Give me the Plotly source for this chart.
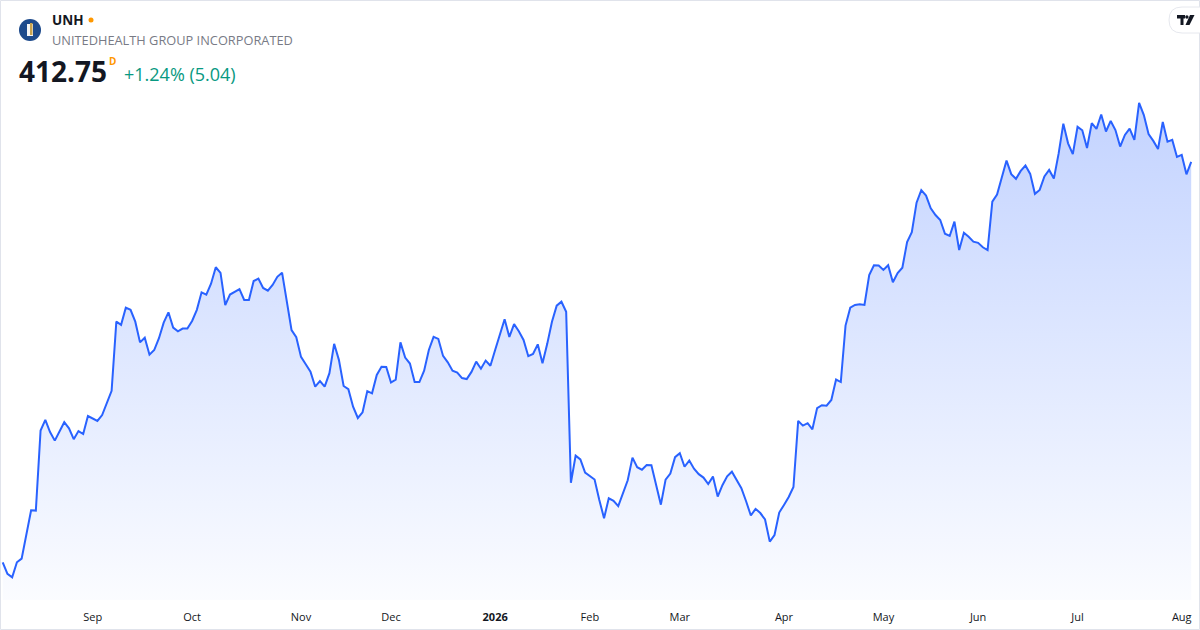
import pandas as pd
import plotly.graph_objects as go

TICKER = "UNH"
COMPANY = "UNITEDHEALTH GROUP INCORPORATED"
LAST_PRICE = "412.75"
CHANGE_TEXT = "+1.24% (5.04)"

# one daily close per NYSE session, Aug 5 2025 -> Aug 5 2026
START_DATE = "2025-08-05"
END_DATE = "2026-08-05"
HOLIDAYS = ["2025-09-01", "2025-11-27", "2025-12-25", "2026-01-01", "2026-01-19",
            "2026-02-16", "2026-04-03", "2026-05-25", "2026-06-19", "2026-07-03"]

CLOSES = [
    250.2, 245.5, 244.1, 250.2, 251.7, 261.5, 271.3, 271.2, 303.7, 308.0,
    303.1, 299.6, 303.5, 307.1, 304.6, 300.2, 303.5, 302.3, 309.6, 308.6,
    307.6, 310.0, 314.9, 319.8, 347.9, 346.6, 353.6, 352.7, 347.9, 339.5,
    341.4, 334.5, 336.4, 341.2, 347.5, 351.7, 345.5, 344.0, 345.1, 345.1,
    348.2, 352.7, 359.8, 358.9, 363.3, 370.0, 367.7, 354.6, 358.9, 360.0,
    361.1, 356.7, 356.7, 364.4, 365.4, 361.6, 360.5, 362.8, 366.1, 367.8,
    355.4, 344.5, 341.6, 333.6, 330.6, 327.6, 321.5, 323.8, 321.5, 327.0,
    338.9, 332.4, 321.8, 320.5, 313.4, 308.8, 311.1, 319.7, 318.8, 326.3,
    329.6, 329.5, 323.2, 324.4, 339.5, 333.3, 330.9, 323.4, 323.4, 328.0,
    336.4, 341.7, 340.9, 334.0, 331.4, 328.0, 327.2, 325.0, 324.6, 327.5,
    331.7, 328.8, 332.1, 330.0, 336.4, 342.5, 348.9, 341.7, 346.9, 344.0,
    340.5, 333.9, 334.8, 338.7, 331.0, 338.9, 347.9, 354.4, 356.0, 351.9,
    282.5, 293.5, 292.0, 286.6, 285.3, 283.8, 275.5, 268.1, 276.2, 275.2,
    273.0, 278.4, 283.5, 292.7, 288.8, 287.8, 289.7, 289.6, 281.5, 273.6,
    283.8, 286.2, 292.9, 294.5, 289.0, 291.5, 288.2, 286.0, 284.6, 282.0,
    285.0, 276.9, 281.5, 285.1, 287.0, 283.8, 280.3, 275.0, 269.2, 271.9,
    270.2, 267.6, 258.6, 261.3, 270.4, 273.5, 276.7, 280.8, 307.6, 305.7,
    306.7, 304.2, 312.8, 314.0, 313.8, 316.1, 324.4, 323.4, 346.3, 353.6,
    354.7, 355.0, 354.7, 366.8, 370.8, 370.7, 368.9, 370.8, 363.9, 367.6,
    369.8, 380.2, 384.2, 396.2, 401.3, 399.1, 393.9, 391.2, 389.2, 383.6,
    382.7, 388.5, 377.0, 384.0, 382.4, 380.4, 379.9, 378.1, 377.0, 396.6,
    399.5, 406.4, 413.3, 407.8, 405.9, 409.1, 411.3, 407.9, 399.8, 401.4,
    406.9, 409.5, 406.0, 416.1, 428.3, 420.3, 415.9, 427.0, 425.6, 418.4,
    428.5, 426.2, 432.0, 425.1, 429.4, 425.7, 419.0, 423.7, 426.3, 421.7,
    436.7, 431.8, 424.1, 421.3, 418.0, 429.0, 421.0, 421.7, 414.8, 415.6,
    407.71, 412.75,
]

TICK_DATES = ["2025-09-02", "2025-10-01", "2025-11-03", "2025-12-01", "2026-01-02",
              "2026-02-02", "2026-03-02", "2026-04-01", "2026-05-01", "2026-06-01",
              "2026-07-01", "2026-08-03"]
TICK_LABELS = ["Sep", "Oct", "Nov", "Dec", "<b>2026</b>", "Feb", "Mar", "Apr",
               "May", "Jun", "Jul", "Aug"]

LINE_COLOR = "#2962FF"
FONT = "Open Sans"
W, H = 1200, 630
PLOT_H = 600

dates = pd.bdate_range(START_DATE, END_DATE, freq="C", holidays=HOLIDAYS)
df = pd.DataFrame({"date": dates, "close": CLOSES})

y_range = [234.9, 478.5]


def px_x(p):
    return p / W


def px_y(p):
    return 1 - p / PLOT_H


fig = go.Figure()
fig.add_trace(go.Scatter(
    x=df["date"], y=df["close"],
    mode="lines",
    line=dict(color=LINE_COLOR, width=2),
    fill="tozeroy",
    fillgradient=dict(
        type="vertical",
        colorscale=[[0, "rgba(41,98,255,0.02)"], [1, "rgba(41,98,255,0.28)"]],
        start=y_range[0],
        stop=df["close"].max(),
    ),
    hoverinfo="skip",
    showlegend=False,
))

fig.update_xaxes(
    type="date",
    rangebreaks=[dict(bounds=["sat", "mon"]), dict(values=HOLIDAYS)],
    range=["2025-08-04 10:18", "2026-08-06 20:40"],
    tickmode="array",
    tickvals=TICK_DATES,
    ticktext=TICK_LABELS,
    ticks="",
    showgrid=False,
    zeroline=False,
    showline=False,
    ticklabelstandoff=9,
    tickfont=dict(family=FONT, size=11, color="#131722"),
)
fig.update_yaxes(range=y_range, visible=False, showgrid=False, zeroline=False)

ann = [
    dict(text="<b>" + TICKER + "</b>", x=px_x(50), y=px_y(20), font=dict(size=13.5, color="#131722")),
    dict(text=COMPANY, x=px_x(50), y=px_y(40), font=dict(size=12.8, color="#787B86")),
    dict(text="<b>" + LAST_PRICE + "</b>", x=px_x(17), y=px_y(71), font=dict(size=28, color="#131722")),
    dict(text="<b>D</b>", x=px_x(107), y=px_y(61), font=dict(size=10, color="#FF9800")),
    dict(text=CHANGE_TEXT, x=px_x(122), y=px_y(74), font=dict(size=18, color="#089981")),
]
for a in ann:
    a.update(xref="paper", yref="paper", xanchor="left", yanchor="middle", showarrow=False)
    a["font"]["family"] = FONT
    fig.add_annotation(**a)

shapes = [
    # card border
    dict(type="rect", x0=px_x(0.5), x1=px_x(1199.5), y0=px_y(629.5), y1=px_y(0.5),
         line=dict(color="#E0E3EB", width=1)),
    # logo badge
    dict(type="circle", x0=px_x(19), x1=px_x(41), y0=px_y(41), y1=px_y(19),
         fillcolor="#1D4A8C", line=dict(width=0)),
    dict(type="rect", x0=px_x(27), x1=px_x(33), y0=px_y(36), y1=px_y(24),
         fillcolor="#F5F5F5", line=dict(width=0)),
    dict(type="rect", x0=px_x(30), x1=px_x(32.5), y0=px_y(35), y1=px_y(23),
         fillcolor="#C9A34E", line=dict(width=0)),
    # live dot
    dict(type="circle", x0=px_x(88.5), x1=px_x(93.5), y0=px_y(22.5), y1=px_y(17.5),
         fillcolor="#FF9800", line=dict(width=0)),
    # tradingview pill
    dict(type="path",
         path=f"M {px_x(1210)},{px_y(7)} L {px_x(1182)},{px_y(7)} "
              f"Q {px_x(1169)},{px_y(7)} {px_x(1169)},{px_y(20)} "
              f"Q {px_x(1169)},{px_y(33)} {px_x(1182)},{px_y(33)} L {px_x(1210)},{px_y(33)} Z",
         fillcolor="white", line=dict(color="#E6E8EE", width=1)),
    dict(type="rect", x0=px_x(1177), x1=px_x(1185), y0=px_y(18.5), y1=px_y(15),
         fillcolor="#131722", line=dict(width=0)),
    dict(type="rect", x0=px_x(1180.5), x1=px_x(1183.5), y0=px_y(25), y1=px_y(15),
         fillcolor="#131722", line=dict(width=0)),
    dict(type="circle", x0=px_x(1185.2), x1=px_x(1188.6), y0=px_y(18.7), y1=px_y(15.3),
         fillcolor="#131722", line=dict(width=0)),
    dict(type="path",
         path=f"M {px_x(1190)},{px_y(15)} L {px_x(1194.5)},{px_y(15)} "
              f"L {px_x(1189.5)},{px_y(25)} L {px_x(1185.5)},{px_y(25)} Z",
         fillcolor="#131722", line=dict(width=0)),
]
for s in shapes:
    s.update(xref="paper", yref="paper", layer="above")
    fig.add_shape(**s)

fig.update_layout(
    width=W,
    height=H,
    margin=dict(l=0, r=0, t=0, b=H - PLOT_H),
    paper_bgcolor="white",
    plot_bgcolor="white",
    font=dict(family=FONT),
    hovermode=False,
)

# the page body has a default 8px margin; drop it so the chart sits at 0,0
fig.write_html("out.html", config={"displayModeBar": False},
               post_script="document.body.style.margin='0';")
